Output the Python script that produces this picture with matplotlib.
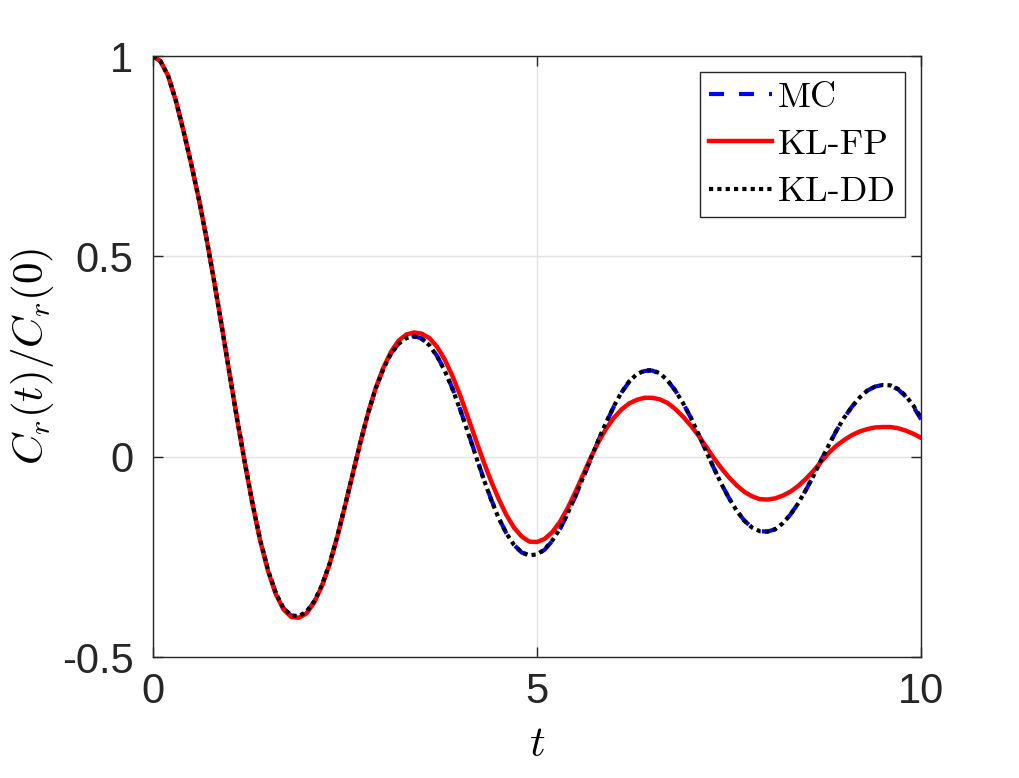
import numpy as np
import matplotlib
matplotlib.use("Agg")
import matplotlib.pyplot as plt

# time grid, step 0.1 from 0 to 10
t = np.round(np.arange(0, 101) * 0.1, 1)

# normalised correlation
mc = [1.000, 0.987, 0.950, 0.888, 0.812, 0.730, 0.642, 0.543, 0.435, 0.322,
      0.205, 0.090, -0.018, -0.120, -0.210, -0.283, -0.340, -0.378, -0.397, -0.399,
      -0.388, -0.362, -0.322, -0.268, -0.200, -0.124, -0.044, 0.035, 0.108, 0.170,
      0.220, 0.258, 0.283, 0.297, 0.301, 0.295, 0.279, 0.251, 0.215, 0.170,
      0.118, 0.062, 0.005, -0.052, -0.105, -0.152, -0.191, -0.220, -0.239, -0.247,
      -0.245, -0.232, -0.210, -0.180, -0.142, -0.099, -0.053, -0.006, 0.041, 0.085,
      0.125, 0.160, 0.187, 0.205, 0.214, 0.215, 0.207, 0.190, 0.165, 0.134,
      0.098, 0.057, 0.014, -0.028, -0.068, -0.104, -0.135, -0.160, -0.177, -0.186,
      -0.187, -0.181, -0.166, -0.144, -0.116, -0.083, -0.047, -0.008, 0.030, 0.066,
      0.098, 0.125, 0.148, 0.165, 0.175, 0.179, 0.177, 0.168, 0.150, 0.124,
      0.093]

kl_fp = [1.000, 0.987, 0.950, 0.888, 0.812, 0.730, 0.642, 0.543, 0.435, 0.322,
         0.205, 0.090, -0.018, -0.121, -0.212, -0.286, -0.343, -0.381, -0.400, -0.402,
         -0.391, -0.364, -0.323, -0.269, -0.200, -0.124, -0.044, 0.035, 0.108, 0.171,
         0.222, 0.262, 0.290, 0.305, 0.310, 0.307, 0.296, 0.274, 0.242, 0.201,
         0.153, 0.099, 0.044, -0.010, -0.060, -0.105, -0.145, -0.177, -0.199, -0.212,
         -0.213, -0.205, -0.188, -0.162, -0.128, -0.088, -0.045, -0.002, 0.037, 0.070,
         0.097, 0.118, 0.133, 0.142, 0.147, 0.147, 0.143, 0.134, 0.119, 0.100,
         0.078, 0.053, 0.025, -0.003, -0.029, -0.052, -0.072, -0.088, -0.099, -0.106,
         -0.107, -0.104, -0.097, -0.087, -0.073, -0.055, -0.035, -0.012, 0.010, 0.028,
         0.042, 0.054, 0.063, 0.069, 0.073, 0.074, 0.074, 0.071, 0.065, 0.057,
         0.047]

kl_dd = [1.000, 0.987, 0.950, 0.888, 0.812, 0.730, 0.642, 0.543, 0.435, 0.322,
         0.205, 0.090, -0.018, -0.120, -0.210, -0.283, -0.340, -0.378, -0.396, -0.398,
         -0.387, -0.361, -0.321, -0.267, -0.199, -0.123, -0.044, 0.035, 0.108, 0.170,
         0.219, 0.257, 0.282, 0.296, 0.300, 0.294, 0.278, 0.250, 0.214, 0.169,
         0.117, 0.061, 0.004, -0.053, -0.106, -0.153, -0.191, -0.220, -0.239, -0.246,
         -0.244, -0.231, -0.209, -0.179, -0.141, -0.098, -0.052, -0.005, 0.042, 0.086,
         0.126, 0.161, 0.188, 0.206, 0.215, 0.216, 0.208, 0.190, 0.165, 0.134,
         0.098, 0.057, 0.014, -0.028, -0.068, -0.104, -0.135, -0.160, -0.177, -0.186,
         -0.187, -0.181, -0.166, -0.144, -0.116, -0.083, -0.047, -0.008, 0.030, 0.066,
         0.098, 0.125, 0.148, 0.165, 0.175, 0.179, 0.178, 0.169, 0.152, 0.127,
         0.097]

plt.rcParams["mathtext.fontset"] = "cm"
plt.rcParams["font.family"] = ["Liberation Sans", "DejaVu Sans"]
plt.rcParams["axes.unicode_minus"] = False

dark = "#262626"

fig = plt.figure(figsize=(10.19, 7.78), dpi=100)
ax = fig.add_axes([0.150, 0.1555, 0.754, 0.7725])

ax.plot(t, mc, color="blue", lw=3.0, linestyle=(0, (3.6, 3.6)), label="MC")
ax.plot(t, kl_fp, color="red", lw=3.2, label="KL-FP")
ax.plot(t, kl_dd, color="black", lw=3.0, linestyle=(0, (1, 1)), label="KL-DD")

ax.set_xlim(0, 10)
ax.set_ylim(-0.5, 1)
ax.set_xticks([0, 5, 10])
ax.set_yticks([-0.5, 0, 0.5, 1])
ax.set_xticklabels(["0", "5", "10"])
ax.set_yticklabels(["-0.5", "0", "0.5", "1"])

ax.grid(True, color="#e2e2e2", lw=1.0)
ax.set_axisbelow(True)
for s in ax.spines.values():
    s.set_color(dark)
    s.set_linewidth(1.0)
ax.tick_params(direction="in", length=7, width=1.0, colors=dark,
               labelsize=30, top=True, right=True)
ax.tick_params(axis="x", pad=11)
ax.tick_params(axis="y", pad=14)

ax.set_xlabel(r"$t$", fontsize=31, labelpad=9)
ax.set_ylabel(r"$C_r(t)/C_r(0)$", fontsize=31, labelpad=4)

leg = ax.legend(loc="upper right", prop={"family": "cmr10", "size": 26},
                fancybox=False, framealpha=1, edgecolor=dark,
                handlelength=1.75, handletextpad=0.17, labelspacing=0.42,
                borderaxespad=0.45, borderpad=0.25)
leg.get_frame().set_linewidth(1.0)

fig.savefig("out.png", dpi=100)
